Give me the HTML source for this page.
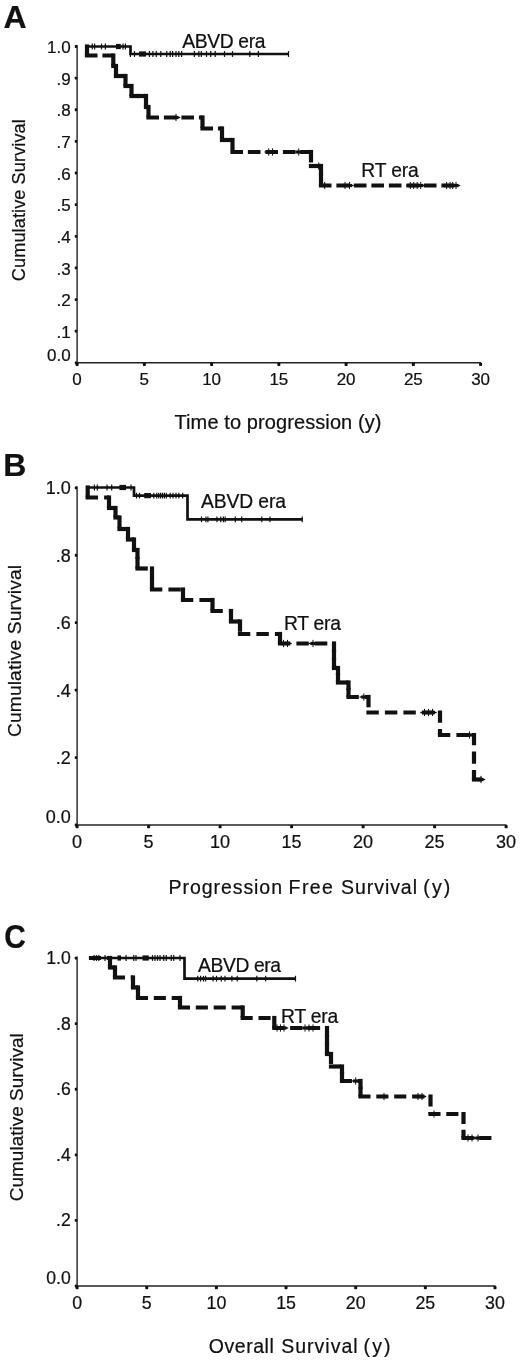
<!DOCTYPE html>
<html><head><meta charset="utf-8"><title>Figure</title>
<style>html,body{margin:0;padding:0;background:#fff;width:520px;height:1362px;overflow:hidden;}svg{display:block;}text{font-family:"Liberation Sans", sans-serif;fill:#111;stroke:#111;stroke-width:0.22px;}</style></head><body>
<svg width="520" height="1362" viewBox="0 0 520 1362" stroke="#111" fill="none" shape-rendering="auto" style="will-change:transform">
<rect x="0" y="0" width="520" height="1362" fill="#fff" stroke="none"/>
<text x="3.5" y="27.7" font-size="32" text-anchor="start" font-weight="bold">A</text>
<line x1="77.1" y1="45.0" x2="77.1" y2="363.5" stroke-width="1.4" stroke="#222"/>
<line x1="76.39999999999999" y1="362.8" x2="481.1" y2="362.8" stroke-width="1.4" stroke="#222"/>
<rect x="74.8" y="361.40000000000003" width="2.3" height="2.8" rx="0.6" fill="#111" stroke="none"/>
<rect x="74.8" y="329.77000000000004" width="2.3" height="2.8" rx="0.6" fill="#111" stroke="none"/>
<rect x="74.8" y="298.14000000000004" width="2.3" height="2.8" rx="0.6" fill="#111" stroke="none"/>
<rect x="74.8" y="266.51000000000005" width="2.3" height="2.8" rx="0.6" fill="#111" stroke="none"/>
<rect x="74.8" y="234.88" width="2.3" height="2.8" rx="0.6" fill="#111" stroke="none"/>
<rect x="74.8" y="203.25" width="2.3" height="2.8" rx="0.6" fill="#111" stroke="none"/>
<rect x="74.8" y="171.62" width="2.3" height="2.8" rx="0.6" fill="#111" stroke="none"/>
<rect x="74.8" y="139.99" width="2.3" height="2.8" rx="0.6" fill="#111" stroke="none"/>
<rect x="74.8" y="108.35999999999999" width="2.3" height="2.8" rx="0.6" fill="#111" stroke="none"/>
<rect x="74.8" y="76.72999999999999" width="2.3" height="2.8" rx="0.6" fill="#111" stroke="none"/>
<rect x="74.8" y="45.1" width="2.3" height="2.8" rx="0.6" fill="#111" stroke="none"/>
<text x="70.7" y="53.09" font-size="17" text-anchor="end" font-weight="normal">1.0</text>
<text x="70.7" y="84.72" font-size="17" text-anchor="end" font-weight="normal">.9</text>
<text x="70.7" y="116.35" font-size="17" text-anchor="end" font-weight="normal">.8</text>
<text x="70.7" y="147.98" font-size="17" text-anchor="end" font-weight="normal">.7</text>
<text x="70.7" y="179.61" font-size="17" text-anchor="end" font-weight="normal">.6</text>
<text x="70.7" y="211.24" font-size="17" text-anchor="end" font-weight="normal">.5</text>
<text x="70.7" y="242.87" font-size="17" text-anchor="end" font-weight="normal">.4</text>
<text x="70.7" y="274.5" font-size="17" text-anchor="end" font-weight="normal">.3</text>
<text x="70.7" y="306.13" font-size="17" text-anchor="end" font-weight="normal">.2</text>
<text x="70.7" y="337.76" font-size="17" text-anchor="end" font-weight="normal">.1</text>
<text x="70.7" y="361.09" font-size="17" text-anchor="end" font-weight="normal">0.0</text>
<rect x="75.6" y="362.8" width="3" height="3.2" rx="0.7" fill="#111" stroke="none"/>
<text x="77.1" y="384.79" font-size="17" text-anchor="middle" font-weight="normal">0</text>
<rect x="142.85" y="362.8" width="3" height="3.2" rx="0.7" fill="#111" stroke="none"/>
<text x="144.35" y="384.79" font-size="17" text-anchor="middle" font-weight="normal">5</text>
<rect x="210.1" y="362.8" width="3" height="3.2" rx="0.7" fill="#111" stroke="none"/>
<text x="211.6" y="384.79" font-size="17" text-anchor="middle" font-weight="normal">10</text>
<rect x="277.35" y="362.8" width="3" height="3.2" rx="0.7" fill="#111" stroke="none"/>
<text x="278.85" y="384.79" font-size="17" text-anchor="middle" font-weight="normal">15</text>
<rect x="344.6" y="362.8" width="3" height="3.2" rx="0.7" fill="#111" stroke="none"/>
<text x="346.1" y="384.79" font-size="17" text-anchor="middle" font-weight="normal">20</text>
<rect x="411.85" y="362.8" width="3" height="3.2" rx="0.7" fill="#111" stroke="none"/>
<text x="413.35" y="384.79" font-size="17" text-anchor="middle" font-weight="normal">25</text>
<rect x="479.1" y="362.8" width="3" height="3.2" rx="0.7" fill="#111" stroke="none"/>
<text x="480.6" y="384.79" font-size="17" text-anchor="middle" font-weight="normal">30</text>
<text transform="translate(24.7,200.2) rotate(-90)" font-size="18.2" text-anchor="middle" textLength="162" lengthAdjust="spacing">Cumulative Survival</text>
<text x="174.5" y="428.6" font-size="20" text-anchor="start" font-weight="normal" textLength="207" lengthAdjust="spacing">Time to progression (y)</text>
<text x="182.2" y="48.3" font-size="19.3" text-anchor="start" font-weight="normal" textLength="83.3" lengthAdjust="spacing">ABVD era</text>
<text x="361.3" y="176.5" font-size="19.3" text-anchor="start" font-weight="normal" textLength="57.5" lengthAdjust="spacing">RT era</text>
<line x1="176" y1="113.9" x2="176" y2="121.1" stroke-width="1.0"/>
<line x1="173.4" y1="117.5" x2="178.6" y2="117.5" stroke-width="3.2"/>
<line x1="171.8" y1="117.5" x2="180.2" y2="117.5" stroke-width="1.3"/>
<line x1="268.7" y1="148.4" x2="268.7" y2="155.6" stroke-width="1.0"/>
<line x1="266.09999999999997" y1="152" x2="271.3" y2="152" stroke-width="3.2"/>
<line x1="264.5" y1="152" x2="272.9" y2="152" stroke-width="1.3"/>
<line x1="272.5" y1="148.4" x2="272.5" y2="155.6" stroke-width="1.0"/>
<line x1="269.9" y1="152" x2="275.1" y2="152" stroke-width="3.2"/>
<line x1="268.3" y1="152" x2="276.7" y2="152" stroke-width="1.3"/>
<line x1="298.7" y1="148.4" x2="298.7" y2="155.6" stroke-width="1.0"/>
<line x1="296.09999999999997" y1="152" x2="301.3" y2="152" stroke-width="3.2"/>
<line x1="294.5" y1="152" x2="302.9" y2="152" stroke-width="1.3"/>
<line x1="318.7" y1="162.4" x2="318.7" y2="169.6" stroke-width="1.0"/>
<line x1="316.09999999999997" y1="166" x2="321.3" y2="166" stroke-width="3.2"/>
<line x1="314.5" y1="166" x2="322.9" y2="166" stroke-width="1.3"/>
<line x1="324.7" y1="181.9" x2="324.7" y2="189.1" stroke-width="1.0"/>
<line x1="322.09999999999997" y1="185.5" x2="327.3" y2="185.5" stroke-width="3.2"/>
<line x1="320.5" y1="185.5" x2="328.9" y2="185.5" stroke-width="1.3"/>
<line x1="345" y1="181.9" x2="345" y2="189.1" stroke-width="1.0"/>
<line x1="342.4" y1="185.5" x2="347.6" y2="185.5" stroke-width="3.2"/>
<line x1="340.8" y1="185.5" x2="349.2" y2="185.5" stroke-width="1.3"/>
<line x1="349.5" y1="181.9" x2="349.5" y2="189.1" stroke-width="1.0"/>
<line x1="346.9" y1="185.5" x2="352.1" y2="185.5" stroke-width="3.2"/>
<line x1="345.3" y1="185.5" x2="353.7" y2="185.5" stroke-width="1.3"/>
<line x1="410.3" y1="181.9" x2="410.3" y2="189.1" stroke-width="1.0"/>
<line x1="407.7" y1="185.5" x2="412.90000000000003" y2="185.5" stroke-width="3.2"/>
<line x1="406.1" y1="185.5" x2="414.5" y2="185.5" stroke-width="1.3"/>
<line x1="413.7" y1="181.9" x2="413.7" y2="189.1" stroke-width="1.0"/>
<line x1="411.09999999999997" y1="185.5" x2="416.3" y2="185.5" stroke-width="3.2"/>
<line x1="409.5" y1="185.5" x2="417.9" y2="185.5" stroke-width="1.3"/>
<line x1="417.2" y1="181.9" x2="417.2" y2="189.1" stroke-width="1.0"/>
<line x1="414.59999999999997" y1="185.5" x2="419.8" y2="185.5" stroke-width="3.2"/>
<line x1="413.0" y1="185.5" x2="421.4" y2="185.5" stroke-width="1.3"/>
<line x1="420.7" y1="181.9" x2="420.7" y2="189.1" stroke-width="1.0"/>
<line x1="418.09999999999997" y1="185.5" x2="423.3" y2="185.5" stroke-width="3.2"/>
<line x1="416.5" y1="185.5" x2="424.9" y2="185.5" stroke-width="1.3"/>
<line x1="446.6" y1="181.9" x2="446.6" y2="189.1" stroke-width="1.0"/>
<line x1="444.0" y1="185.5" x2="449.20000000000005" y2="185.5" stroke-width="3.2"/>
<line x1="442.40000000000003" y1="185.5" x2="450.8" y2="185.5" stroke-width="1.3"/>
<line x1="450" y1="181.9" x2="450" y2="189.1" stroke-width="1.0"/>
<line x1="447.4" y1="185.5" x2="452.6" y2="185.5" stroke-width="3.2"/>
<line x1="445.8" y1="185.5" x2="454.2" y2="185.5" stroke-width="1.3"/>
<line x1="452.7" y1="181.9" x2="452.7" y2="189.1" stroke-width="1.0"/>
<line x1="450.09999999999997" y1="185.5" x2="455.3" y2="185.5" stroke-width="3.2"/>
<line x1="448.5" y1="185.5" x2="456.9" y2="185.5" stroke-width="1.3"/>
<line x1="456" y1="181.9" x2="456" y2="189.1" stroke-width="1.0"/>
<line x1="453.4" y1="185.5" x2="458.6" y2="185.5" stroke-width="3.2"/>
<line x1="451.8" y1="185.5" x2="460.2" y2="185.5" stroke-width="1.3"/>
<line x1="87.0" y1="44.4" x2="87.0" y2="55.5" stroke-width="4.2" stroke-dasharray="12.6 4.9"/>
<line x1="84.9" y1="55.5" x2="113.3" y2="55.5" stroke-width="4.2" stroke-dasharray="12.6 4.9"/>
<line x1="113.3" y1="53.4" x2="113.3" y2="66.0" stroke-width="4.2" stroke-dasharray="12.6 4.9"/>
<line x1="111.2" y1="66.0" x2="116.0" y2="66.0" stroke-width="4.2" stroke-dasharray="12.6 4.9"/>
<line x1="116.0" y1="63.9" x2="116.0" y2="76.0" stroke-width="4.2" stroke-dasharray="12.6 4.9"/>
<line x1="113.9" y1="76.0" x2="125.5" y2="76.0" stroke-width="4.2" stroke-dasharray="12.6 4.9"/>
<line x1="125.5" y1="73.9" x2="125.5" y2="86.0" stroke-width="4.2" stroke-dasharray="12.6 4.9"/>
<line x1="123.4" y1="86.0" x2="131.5" y2="86.0" stroke-width="4.2" stroke-dasharray="12.6 4.9"/>
<line x1="131.5" y1="83.9" x2="131.5" y2="96.0" stroke-width="4.2" stroke-dasharray="12.6 4.9"/>
<line x1="129.4" y1="96.0" x2="139.0" y2="96.0" stroke-width="4.2" stroke-dasharray="12.6 4.9"/>
<line x1="136.9" y1="96.0" x2="146.0" y2="96.0" stroke-width="4.2" stroke-dasharray="12.6 4.9"/>
<line x1="146.0" y1="93.9" x2="146.0" y2="107.0" stroke-width="4.2" stroke-dasharray="12.6 4.9"/>
<line x1="143.9" y1="107.0" x2="148.5" y2="107.0" stroke-width="4.2" stroke-dasharray="12.6 4.9"/>
<line x1="148.5" y1="104.9" x2="148.5" y2="117.5" stroke-width="4.2" stroke-dasharray="12.6 4.9"/>
<line x1="146.4" y1="117.5" x2="202.5" y2="117.5" stroke-width="4.2" stroke-dasharray="12.6 4.9"/>
<line x1="202.5" y1="115.4" x2="202.5" y2="128.5" stroke-width="4.2" stroke-dasharray="12.6 4.9"/>
<line x1="200.4" y1="128.5" x2="222.0" y2="128.5" stroke-width="4.2" stroke-dasharray="12.6 4.9"/>
<line x1="222.0" y1="126.4" x2="222.0" y2="140.0" stroke-width="4.2" stroke-dasharray="12.6 4.9"/>
<line x1="219.9" y1="140.0" x2="232.5" y2="140.0" stroke-width="4.2" stroke-dasharray="12.6 4.9"/>
<line x1="232.5" y1="137.9" x2="232.5" y2="152.0" stroke-width="4.2" stroke-dasharray="12.6 4.9"/>
<line x1="230.4" y1="152.0" x2="311.0" y2="152.0" stroke-width="4.2" stroke-dasharray="12.6 4.9"/>
<line x1="311.0" y1="149.9" x2="311.0" y2="166.0" stroke-width="4.2" stroke-dasharray="12.6 4.9"/>
<line x1="308.9" y1="166.0" x2="321.0" y2="166.0" stroke-width="4.2" stroke-dasharray="12.6 4.9"/>
<line x1="321.0" y1="163.9" x2="321.0" y2="175.5" stroke-width="4.2" stroke-dasharray="12.6 4.9"/>
<line x1="321.0" y1="173.4" x2="321.0" y2="185.5" stroke-width="4.2" stroke-dasharray="12.6 4.9"/>
<line x1="318.9" y1="185.5" x2="458.5" y2="185.5" stroke-width="4.2" stroke-dasharray="12.6 4.9"/>
<path d="M86.2,46.5 H130.5 V54 H288.5" fill="none" stroke-width="2.7" stroke-linejoin="miter"/>
<line x1="92.3" y1="43.6" x2="92.3" y2="49.4" stroke-width="1.2"/>
<line x1="94.6" y1="43.6" x2="94.6" y2="49.4" stroke-width="1.2"/>
<line x1="101.5" y1="43.6" x2="101.5" y2="49.4" stroke-width="1.2"/>
<line x1="105.4" y1="43.6" x2="105.4" y2="49.4" stroke-width="1.2"/>
<line x1="123" y1="43.6" x2="123" y2="49.4" stroke-width="1.2"/>
<line x1="125.4" y1="43.6" x2="125.4" y2="49.4" stroke-width="1.2"/>
<rect x="116" y="43.9" width="4.799999999999997" height="5.2" fill="#111" stroke="none"/>
<line x1="130.4" y1="51.1" x2="130.4" y2="56.9" stroke-width="1.2"/>
<line x1="134.5" y1="51.1" x2="134.5" y2="56.9" stroke-width="1.2"/>
<line x1="149.4" y1="51.1" x2="149.4" y2="56.9" stroke-width="1.2"/>
<line x1="152.9" y1="51.1" x2="152.9" y2="56.9" stroke-width="1.2"/>
<line x1="156.3" y1="51.1" x2="156.3" y2="56.9" stroke-width="1.2"/>
<line x1="160.8" y1="51.1" x2="160.8" y2="56.9" stroke-width="1.2"/>
<line x1="166.7" y1="51.1" x2="166.7" y2="56.9" stroke-width="1.2"/>
<line x1="170.2" y1="51.1" x2="170.2" y2="56.9" stroke-width="1.2"/>
<line x1="172.6" y1="51.1" x2="172.6" y2="56.9" stroke-width="1.2"/>
<line x1="176" y1="51.1" x2="176" y2="56.9" stroke-width="1.2"/>
<line x1="178.8" y1="51.1" x2="178.8" y2="56.9" stroke-width="1.2"/>
<line x1="181.6" y1="51.1" x2="181.6" y2="56.9" stroke-width="1.2"/>
<line x1="194.4" y1="51.1" x2="194.4" y2="56.9" stroke-width="1.2"/>
<line x1="198.9" y1="51.1" x2="198.9" y2="56.9" stroke-width="1.2"/>
<line x1="201.3" y1="51.1" x2="201.3" y2="56.9" stroke-width="1.2"/>
<line x1="206.5" y1="51.1" x2="206.5" y2="56.9" stroke-width="1.2"/>
<line x1="210.7" y1="51.1" x2="210.7" y2="56.9" stroke-width="1.2"/>
<line x1="215.2" y1="51.1" x2="215.2" y2="56.9" stroke-width="1.2"/>
<line x1="224.5" y1="51.1" x2="224.5" y2="56.9" stroke-width="1.2"/>
<line x1="232.5" y1="51.1" x2="232.5" y2="56.9" stroke-width="1.2"/>
<line x1="249.8" y1="51.1" x2="249.8" y2="56.9" stroke-width="1.2"/>
<line x1="258.4" y1="51.1" x2="258.4" y2="56.9" stroke-width="1.2"/>
<line x1="288.5" y1="51.1" x2="288.5" y2="56.9" stroke-width="1.2"/>
<rect x="139" y="51.4" width="7" height="5.2" fill="#111" stroke="none"/>
<text x="3.2" y="476.4" font-size="32" text-anchor="start" font-weight="bold">B</text>
<line x1="77.1" y1="486.3" x2="77.1" y2="825.7" stroke-width="1.4" stroke="#222"/>
<line x1="76.39999999999999" y1="825" x2="506.5" y2="825" stroke-width="1.4" stroke="#222"/>
<rect x="74.8" y="823.6" width="2.3" height="2.8" rx="0.6" fill="#111" stroke="none"/>
<rect x="74.8" y="756.16" width="2.3" height="2.8" rx="0.6" fill="#111" stroke="none"/>
<rect x="74.8" y="688.72" width="2.3" height="2.8" rx="0.6" fill="#111" stroke="none"/>
<rect x="74.8" y="621.2800000000001" width="2.3" height="2.8" rx="0.6" fill="#111" stroke="none"/>
<rect x="74.8" y="553.84" width="2.3" height="2.8" rx="0.6" fill="#111" stroke="none"/>
<rect x="74.8" y="486.40000000000003" width="2.3" height="2.8" rx="0.6" fill="#111" stroke="none"/>
<text x="70.7" y="494.34" font-size="18" text-anchor="end" font-weight="normal">1.0</text>
<text x="70.7" y="561.78" font-size="18" text-anchor="end" font-weight="normal">.8</text>
<text x="70.7" y="629.22" font-size="18" text-anchor="end" font-weight="normal">.6</text>
<text x="70.7" y="696.66" font-size="18" text-anchor="end" font-weight="normal">.4</text>
<text x="70.7" y="764.1" font-size="18" text-anchor="end" font-weight="normal">.2</text>
<text x="70.7" y="822.64" font-size="18" text-anchor="end" font-weight="normal">0.0</text>
<rect x="75.6" y="825" width="3" height="3.2" rx="0.7" fill="#111" stroke="none"/>
<text x="77.1" y="848.14" font-size="18" text-anchor="middle" font-weight="normal">0</text>
<rect x="147.1" y="825" width="3" height="3.2" rx="0.7" fill="#111" stroke="none"/>
<text x="148.6" y="848.14" font-size="18" text-anchor="middle" font-weight="normal">5</text>
<rect x="218.6" y="825" width="3" height="3.2" rx="0.7" fill="#111" stroke="none"/>
<text x="220.1" y="848.14" font-size="18" text-anchor="middle" font-weight="normal">10</text>
<rect x="290.1" y="825" width="3" height="3.2" rx="0.7" fill="#111" stroke="none"/>
<text x="291.6" y="848.14" font-size="18" text-anchor="middle" font-weight="normal">15</text>
<rect x="361.6" y="825" width="3" height="3.2" rx="0.7" fill="#111" stroke="none"/>
<text x="363.1" y="848.14" font-size="18" text-anchor="middle" font-weight="normal">20</text>
<rect x="433.1" y="825" width="3" height="3.2" rx="0.7" fill="#111" stroke="none"/>
<text x="434.6" y="848.14" font-size="18" text-anchor="middle" font-weight="normal">25</text>
<rect x="504.6" y="825" width="3" height="3.2" rx="0.7" fill="#111" stroke="none"/>
<text x="506.1" y="848.14" font-size="18" text-anchor="middle" font-weight="normal">30</text>
<text transform="translate(20.8,651.0) rotate(-90)" font-size="19.2" text-anchor="middle" textLength="172" lengthAdjust="spacing">Cumulative Survival</text>
<text x="168.5" y="893.9" font-size="19.5" text-anchor="start" font-weight="normal" textLength="113.5" lengthAdjust="spacing">Progression</text>
<text x="288.6" y="893.9" font-size="19.5" text-anchor="start" font-weight="normal" textLength="44.2" lengthAdjust="spacing">Free</text>
<text x="341" y="893.9" font-size="19.5" text-anchor="start" font-weight="normal" textLength="76" lengthAdjust="spacing">Survival</text>
<text x="423.3" y="893.9" font-size="19.5" text-anchor="start" font-weight="normal" textLength="27" lengthAdjust="spacing">(y)</text>
<text x="201.1" y="508.3" font-size="19.3" text-anchor="start" font-weight="normal" textLength="84.8" lengthAdjust="spacing">ABVD era</text>
<text x="284" y="629.8" font-size="19.3" text-anchor="start" font-weight="normal" textLength="57" lengthAdjust="spacing">RT era</text>
<line x1="283.5" y1="639.9" x2="283.5" y2="647.1" stroke-width="1.0"/>
<line x1="280.9" y1="643.5" x2="286.1" y2="643.5" stroke-width="3.2"/>
<line x1="279.3" y1="643.5" x2="287.7" y2="643.5" stroke-width="1.3"/>
<line x1="287.5" y1="639.9" x2="287.5" y2="647.1" stroke-width="1.0"/>
<line x1="284.9" y1="643.5" x2="290.1" y2="643.5" stroke-width="3.2"/>
<line x1="283.3" y1="643.5" x2="291.7" y2="643.5" stroke-width="1.3"/>
<line x1="313" y1="639.9" x2="313" y2="647.1" stroke-width="1.0"/>
<line x1="310.4" y1="643.5" x2="315.6" y2="643.5" stroke-width="3.2"/>
<line x1="308.8" y1="643.5" x2="317.2" y2="643.5" stroke-width="1.3"/>
<line x1="363.8" y1="693.4" x2="363.8" y2="700.6" stroke-width="1.0"/>
<line x1="361.2" y1="697" x2="366.40000000000003" y2="697" stroke-width="3.2"/>
<line x1="359.6" y1="697" x2="368.0" y2="697" stroke-width="1.3"/>
<line x1="424.5" y1="708.9" x2="424.5" y2="716.1" stroke-width="1.0"/>
<line x1="421.9" y1="712.5" x2="427.1" y2="712.5" stroke-width="3.2"/>
<line x1="420.3" y1="712.5" x2="428.7" y2="712.5" stroke-width="1.3"/>
<line x1="428.5" y1="708.9" x2="428.5" y2="716.1" stroke-width="1.0"/>
<line x1="425.9" y1="712.5" x2="431.1" y2="712.5" stroke-width="3.2"/>
<line x1="424.3" y1="712.5" x2="432.7" y2="712.5" stroke-width="1.3"/>
<line x1="432.5" y1="708.9" x2="432.5" y2="716.1" stroke-width="1.0"/>
<line x1="429.9" y1="712.5" x2="435.1" y2="712.5" stroke-width="3.2"/>
<line x1="428.3" y1="712.5" x2="436.7" y2="712.5" stroke-width="1.3"/>
<line x1="469.5" y1="731.4" x2="469.5" y2="738.6" stroke-width="1.0"/>
<line x1="466.9" y1="735" x2="472.1" y2="735" stroke-width="3.2"/>
<line x1="465.3" y1="735" x2="473.7" y2="735" stroke-width="1.3"/>
<line x1="481" y1="775.9" x2="481" y2="783.1" stroke-width="1.0"/>
<line x1="478.4" y1="779.5" x2="483.6" y2="779.5" stroke-width="3.2"/>
<line x1="476.8" y1="779.5" x2="485.2" y2="779.5" stroke-width="1.3"/>
<line x1="87.7" y1="485.4" x2="87.7" y2="497.5" stroke-width="4.2" stroke-dasharray="12.4 6.1"/>
<line x1="85.60000000000001" y1="497.5" x2="109.0" y2="497.5" stroke-width="4.2" stroke-dasharray="12.4 6.1"/>
<line x1="109.0" y1="495.4" x2="109.0" y2="508.0" stroke-width="4.2" stroke-dasharray="12.4 6.1"/>
<line x1="106.9" y1="508.0" x2="115.5" y2="508.0" stroke-width="4.2" stroke-dasharray="12.4 6.1"/>
<line x1="115.5" y1="505.9" x2="115.5" y2="517.5" stroke-width="4.2" stroke-dasharray="12.4 6.1"/>
<line x1="113.4" y1="517.5" x2="119.5" y2="517.5" stroke-width="4.2" stroke-dasharray="12.4 6.1"/>
<line x1="119.5" y1="515.4" x2="119.5" y2="529.0" stroke-width="4.2" stroke-dasharray="12.4 6.1"/>
<line x1="117.4" y1="529.0" x2="128.0" y2="529.0" stroke-width="4.2" stroke-dasharray="12.4 6.1"/>
<line x1="128.0" y1="526.9" x2="128.0" y2="539.5" stroke-width="4.2" stroke-dasharray="12.4 6.1"/>
<line x1="125.9" y1="539.5" x2="134.0" y2="539.5" stroke-width="4.2" stroke-dasharray="12.4 6.1"/>
<line x1="134.0" y1="537.4" x2="134.0" y2="550.0" stroke-width="4.2" stroke-dasharray="12.4 6.1"/>
<line x1="131.9" y1="550.0" x2="137.5" y2="550.0" stroke-width="4.2" stroke-dasharray="12.4 6.1"/>
<line x1="137.5" y1="547.9" x2="137.5" y2="559.0" stroke-width="4.2" stroke-dasharray="12.4 6.1"/>
<line x1="137.5" y1="556.9" x2="137.5" y2="568.5" stroke-width="4.2" stroke-dasharray="12.4 6.1"/>
<line x1="135.4" y1="568.5" x2="152.0" y2="568.5" stroke-width="4.2" stroke-dasharray="12.4 6.1"/>
<line x1="152.0" y1="566.4" x2="152.0" y2="579.0" stroke-width="4.2" stroke-dasharray="12.4 6.1"/>
<line x1="152.0" y1="576.9" x2="152.0" y2="589.5" stroke-width="4.2" stroke-dasharray="12.4 6.1"/>
<line x1="149.9" y1="589.5" x2="183.0" y2="589.5" stroke-width="4.2" stroke-dasharray="12.4 6.1"/>
<line x1="183.0" y1="587.4" x2="183.0" y2="600.0" stroke-width="4.2" stroke-dasharray="12.4 6.1"/>
<line x1="180.9" y1="600.0" x2="212.5" y2="600.0" stroke-width="4.2" stroke-dasharray="12.4 6.1"/>
<line x1="212.5" y1="597.9" x2="212.5" y2="611.0" stroke-width="4.2" stroke-dasharray="12.4 6.1"/>
<line x1="210.4" y1="611.0" x2="231.0" y2="611.0" stroke-width="4.2" stroke-dasharray="12.4 6.1"/>
<line x1="231.0" y1="608.9" x2="231.0" y2="621.5" stroke-width="4.2" stroke-dasharray="12.4 6.1"/>
<line x1="228.9" y1="621.5" x2="240.0" y2="621.5" stroke-width="4.2" stroke-dasharray="12.4 6.1"/>
<line x1="240.0" y1="619.4" x2="240.0" y2="634.0" stroke-width="4.2" stroke-dasharray="12.4 6.1"/>
<line x1="237.9" y1="634.0" x2="280.0" y2="634.0" stroke-width="4.2" stroke-dasharray="12.4 6.1"/>
<line x1="280.0" y1="631.9" x2="280.0" y2="643.5" stroke-width="4.2" stroke-dasharray="12.4 6.1"/>
<line x1="277.9" y1="643.5" x2="334.0" y2="643.5" stroke-width="4.2" stroke-dasharray="12.4 6.1"/>
<line x1="334.0" y1="641.4" x2="334.0" y2="652.0" stroke-width="4.2" stroke-dasharray="12.4 6.1"/>
<line x1="334.0" y1="649.9" x2="334.0" y2="660.0" stroke-width="4.2" stroke-dasharray="12.4 6.1"/>
<line x1="334.0" y1="657.9" x2="334.0" y2="668.0" stroke-width="4.2" stroke-dasharray="12.4 6.1"/>
<line x1="331.9" y1="668.0" x2="338.0" y2="668.0" stroke-width="4.2" stroke-dasharray="12.4 6.1"/>
<line x1="338.0" y1="665.9" x2="338.0" y2="675.0" stroke-width="4.2" stroke-dasharray="12.4 6.1"/>
<line x1="338.0" y1="672.9" x2="338.0" y2="682.5" stroke-width="4.2" stroke-dasharray="12.4 6.1"/>
<line x1="335.9" y1="682.5" x2="348.5" y2="682.5" stroke-width="4.2" stroke-dasharray="12.4 6.1"/>
<line x1="348.5" y1="680.4" x2="348.5" y2="690.0" stroke-width="4.2" stroke-dasharray="12.4 6.1"/>
<line x1="348.5" y1="687.9" x2="348.5" y2="697.0" stroke-width="4.2" stroke-dasharray="12.4 6.1"/>
<line x1="346.4" y1="697.0" x2="368.5" y2="697.0" stroke-width="4.2" stroke-dasharray="12.4 6.1"/>
<line x1="368.5" y1="694.9" x2="368.5" y2="712.5" stroke-width="4.2" stroke-dasharray="12.4 6.1"/>
<line x1="366.4" y1="712.5" x2="440.0" y2="712.5" stroke-width="4.2" stroke-dasharray="12.4 6.1"/>
<line x1="440.0" y1="710.4" x2="440.0" y2="735.0" stroke-width="4.2" stroke-dasharray="12.4 6.1"/>
<line x1="437.9" y1="735.0" x2="474.0" y2="735.0" stroke-width="4.2" stroke-dasharray="12.4 6.1"/>
<line x1="474.0" y1="732.9" x2="474.0" y2="779.5" stroke-width="4.2" stroke-dasharray="12.4 6.1"/>
<line x1="471.9" y1="779.5" x2="482.0" y2="779.5" stroke-width="4.2" stroke-dasharray="12.4 6.1"/>
<path d="M86.8,487.5 H134 V495.6 H187.5 V519.3 H302.7" fill="none" stroke-width="2.7" stroke-linejoin="miter"/>
<line x1="94.4" y1="484.6" x2="94.4" y2="490.4" stroke-width="1.2"/>
<line x1="97.3" y1="484.6" x2="97.3" y2="490.4" stroke-width="1.2"/>
<line x1="107" y1="484.6" x2="107" y2="490.4" stroke-width="1.2"/>
<line x1="111.7" y1="484.6" x2="111.7" y2="490.4" stroke-width="1.2"/>
<line x1="131" y1="484.6" x2="131" y2="490.4" stroke-width="1.2"/>
<rect x="119.4" y="484.9" width="6.599999999999994" height="5.2" fill="#111" stroke="none"/>
<line x1="136.5" y1="492.70000000000005" x2="136.5" y2="498.5" stroke-width="1.2"/>
<line x1="139.5" y1="492.70000000000005" x2="139.5" y2="498.5" stroke-width="1.2"/>
<line x1="153.8" y1="492.70000000000005" x2="153.8" y2="498.5" stroke-width="1.2"/>
<line x1="156.7" y1="492.70000000000005" x2="156.7" y2="498.5" stroke-width="1.2"/>
<line x1="158.7" y1="492.70000000000005" x2="158.7" y2="498.5" stroke-width="1.2"/>
<line x1="160.6" y1="492.70000000000005" x2="160.6" y2="498.5" stroke-width="1.2"/>
<line x1="162.5" y1="492.70000000000005" x2="162.5" y2="498.5" stroke-width="1.2"/>
<line x1="164.4" y1="492.70000000000005" x2="164.4" y2="498.5" stroke-width="1.2"/>
<line x1="166.3" y1="492.70000000000005" x2="166.3" y2="498.5" stroke-width="1.2"/>
<line x1="170.2" y1="492.70000000000005" x2="170.2" y2="498.5" stroke-width="1.2"/>
<line x1="173" y1="492.70000000000005" x2="173" y2="498.5" stroke-width="1.2"/>
<line x1="176" y1="492.70000000000005" x2="176" y2="498.5" stroke-width="1.2"/>
<line x1="178.8" y1="492.70000000000005" x2="178.8" y2="498.5" stroke-width="1.2"/>
<line x1="182.7" y1="492.70000000000005" x2="182.7" y2="498.5" stroke-width="1.2"/>
<rect x="144.2" y="493.0" width="6.800000000000011" height="5.2" fill="#111" stroke="none"/>
<line x1="201.5" y1="516.4" x2="201.5" y2="522.1999999999999" stroke-width="1.2"/>
<line x1="206" y1="516.4" x2="206" y2="522.1999999999999" stroke-width="1.2"/>
<line x1="207.9" y1="516.4" x2="207.9" y2="522.1999999999999" stroke-width="1.2"/>
<line x1="217" y1="516.4" x2="217" y2="522.1999999999999" stroke-width="1.2"/>
<line x1="220.7" y1="516.4" x2="220.7" y2="522.1999999999999" stroke-width="1.2"/>
<line x1="223.4" y1="516.4" x2="223.4" y2="522.1999999999999" stroke-width="1.2"/>
<line x1="225.2" y1="516.4" x2="225.2" y2="522.1999999999999" stroke-width="1.2"/>
<line x1="235.3" y1="516.4" x2="235.3" y2="522.1999999999999" stroke-width="1.2"/>
<line x1="241.7" y1="516.4" x2="241.7" y2="522.1999999999999" stroke-width="1.2"/>
<line x1="261.8" y1="516.4" x2="261.8" y2="522.1999999999999" stroke-width="1.2"/>
<line x1="270" y1="516.4" x2="270" y2="522.1999999999999" stroke-width="1.2"/>
<line x1="302.2" y1="516.4" x2="302.2" y2="522.1999999999999" stroke-width="1.2"/>
<text transform="translate(4.2,948.1) scale(0.935,1.03)" font-size="32" font-weight="bold">C</text>
<line x1="77.1" y1="956.6" x2="77.1" y2="1286.7" stroke-width="1.4" stroke="#222"/>
<line x1="76.39999999999999" y1="1286" x2="495.5" y2="1286" stroke-width="1.4" stroke="#222"/>
<rect x="74.8" y="1284.6" width="2.3" height="2.8" rx="0.6" fill="#111" stroke="none"/>
<rect x="74.8" y="1219.02" width="2.3" height="2.8" rx="0.6" fill="#111" stroke="none"/>
<rect x="74.8" y="1153.4399999999998" width="2.3" height="2.8" rx="0.6" fill="#111" stroke="none"/>
<rect x="74.8" y="1087.86" width="2.3" height="2.8" rx="0.6" fill="#111" stroke="none"/>
<rect x="74.8" y="1022.2800000000001" width="2.3" height="2.8" rx="0.6" fill="#111" stroke="none"/>
<rect x="74.8" y="956.7" width="2.3" height="2.8" rx="0.6" fill="#111" stroke="none"/>
<text x="70.7" y="964.0" font-size="17.6" text-anchor="end" font-weight="normal">1.0</text>
<text x="70.7" y="1029.58" font-size="17.6" text-anchor="end" font-weight="normal">.8</text>
<text x="70.7" y="1095.16" font-size="17.6" text-anchor="end" font-weight="normal">.6</text>
<text x="70.7" y="1160.74" font-size="17.6" text-anchor="end" font-weight="normal">.4</text>
<text x="70.7" y="1226.32" font-size="17.6" text-anchor="end" font-weight="normal">.2</text>
<text x="70.7" y="1283.5" font-size="17.6" text-anchor="end" font-weight="normal">0.0</text>
<rect x="75.6" y="1286" width="3" height="3.2" rx="0.7" fill="#111" stroke="none"/>
<text x="77.1" y="1308.77" font-size="17.8" text-anchor="middle" font-weight="normal">0</text>
<rect x="145.25" y="1286" width="3" height="3.2" rx="0.7" fill="#111" stroke="none"/>
<text x="146.75" y="1308.77" font-size="17.8" text-anchor="middle" font-weight="normal">5</text>
<rect x="214.9" y="1286" width="3" height="3.2" rx="0.7" fill="#111" stroke="none"/>
<text x="216.4" y="1308.77" font-size="17.8" text-anchor="middle" font-weight="normal">10</text>
<rect x="284.54999999999995" y="1286" width="3" height="3.2" rx="0.7" fill="#111" stroke="none"/>
<text x="286.05" y="1308.77" font-size="17.8" text-anchor="middle" font-weight="normal">15</text>
<rect x="354.20000000000005" y="1286" width="3" height="3.2" rx="0.7" fill="#111" stroke="none"/>
<text x="355.7" y="1308.77" font-size="17.8" text-anchor="middle" font-weight="normal">20</text>
<rect x="423.85" y="1286" width="3" height="3.2" rx="0.7" fill="#111" stroke="none"/>
<text x="425.35" y="1308.77" font-size="17.8" text-anchor="middle" font-weight="normal">25</text>
<rect x="493.5" y="1286" width="3" height="3.2" rx="0.7" fill="#111" stroke="none"/>
<text x="495.0" y="1308.77" font-size="17.8" text-anchor="middle" font-weight="normal">30</text>
<text transform="translate(23.4,1117.3) rotate(-90)" font-size="19" text-anchor="middle" textLength="168" lengthAdjust="spacing">Cumulative Survival</text>
<text x="208.8" y="1353.2" font-size="19.5" text-anchor="start" font-weight="normal" textLength="65" lengthAdjust="spacing">Overall</text>
<text x="281.2" y="1353.2" font-size="19.5" text-anchor="start" font-weight="normal" textLength="76.5" lengthAdjust="spacing">Survival</text>
<text x="363.6" y="1353.2" font-size="19.5" text-anchor="start" font-weight="normal" textLength="26.8" lengthAdjust="spacing">(y)</text>
<text x="198" y="971.8" font-size="19.3" text-anchor="start" font-weight="normal" textLength="83" lengthAdjust="spacing">ABVD era</text>
<text x="281" y="1023.4" font-size="19.3" text-anchor="start" font-weight="normal" textLength="57.3" lengthAdjust="spacing">RT era</text>
<line x1="277" y1="1024.4" x2="277" y2="1031.6" stroke-width="1.0"/>
<line x1="274.4" y1="1028" x2="279.6" y2="1028" stroke-width="3.2"/>
<line x1="272.8" y1="1028" x2="281.2" y2="1028" stroke-width="1.3"/>
<line x1="280.5" y1="1024.4" x2="280.5" y2="1031.6" stroke-width="1.0"/>
<line x1="277.9" y1="1028" x2="283.1" y2="1028" stroke-width="3.2"/>
<line x1="276.3" y1="1028" x2="284.7" y2="1028" stroke-width="1.3"/>
<line x1="284" y1="1024.4" x2="284" y2="1031.6" stroke-width="1.0"/>
<line x1="281.4" y1="1028" x2="286.6" y2="1028" stroke-width="3.2"/>
<line x1="279.8" y1="1028" x2="288.2" y2="1028" stroke-width="1.3"/>
<line x1="305" y1="1024.4" x2="305" y2="1031.6" stroke-width="1.0"/>
<line x1="302.4" y1="1028" x2="307.6" y2="1028" stroke-width="3.2"/>
<line x1="300.8" y1="1028" x2="309.2" y2="1028" stroke-width="1.3"/>
<line x1="309" y1="1024.4" x2="309" y2="1031.6" stroke-width="1.0"/>
<line x1="306.4" y1="1028" x2="311.6" y2="1028" stroke-width="3.2"/>
<line x1="304.8" y1="1028" x2="313.2" y2="1028" stroke-width="1.3"/>
<line x1="313" y1="1024.4" x2="313" y2="1031.6" stroke-width="1.0"/>
<line x1="310.4" y1="1028" x2="315.6" y2="1028" stroke-width="3.2"/>
<line x1="308.8" y1="1028" x2="317.2" y2="1028" stroke-width="1.3"/>
<line x1="355.7" y1="1077.4" x2="355.7" y2="1084.6" stroke-width="1.0"/>
<line x1="353.09999999999997" y1="1081" x2="358.3" y2="1081" stroke-width="3.2"/>
<line x1="351.5" y1="1081" x2="359.9" y2="1081" stroke-width="1.3"/>
<line x1="384" y1="1092.9" x2="384" y2="1100.1" stroke-width="1.0"/>
<line x1="381.4" y1="1096.5" x2="386.6" y2="1096.5" stroke-width="3.2"/>
<line x1="379.8" y1="1096.5" x2="388.2" y2="1096.5" stroke-width="1.3"/>
<line x1="418" y1="1092.9" x2="418" y2="1100.1" stroke-width="1.0"/>
<line x1="415.4" y1="1096.5" x2="420.6" y2="1096.5" stroke-width="3.2"/>
<line x1="413.8" y1="1096.5" x2="422.2" y2="1096.5" stroke-width="1.3"/>
<line x1="422" y1="1092.9" x2="422" y2="1100.1" stroke-width="1.0"/>
<line x1="419.4" y1="1096.5" x2="424.6" y2="1096.5" stroke-width="3.2"/>
<line x1="417.8" y1="1096.5" x2="426.2" y2="1096.5" stroke-width="1.3"/>
<line x1="434" y1="1110.4" x2="434" y2="1117.6" stroke-width="1.0"/>
<line x1="431.4" y1="1114" x2="436.6" y2="1114" stroke-width="3.2"/>
<line x1="429.8" y1="1114" x2="438.2" y2="1114" stroke-width="1.3"/>
<line x1="468" y1="1134.4" x2="468" y2="1141.6" stroke-width="1.0"/>
<line x1="465.4" y1="1138" x2="470.6" y2="1138" stroke-width="3.2"/>
<line x1="463.8" y1="1138" x2="472.2" y2="1138" stroke-width="1.3"/>
<line x1="472" y1="1134.4" x2="472" y2="1141.6" stroke-width="1.0"/>
<line x1="469.4" y1="1138" x2="474.6" y2="1138" stroke-width="3.2"/>
<line x1="467.8" y1="1138" x2="476.2" y2="1138" stroke-width="1.3"/>
<line x1="478" y1="1134.4" x2="478" y2="1141.6" stroke-width="1.0"/>
<line x1="475.4" y1="1138" x2="480.6" y2="1138" stroke-width="3.2"/>
<line x1="473.8" y1="1138" x2="482.2" y2="1138" stroke-width="1.3"/>
<line x1="88.9" y1="958.0" x2="110.0" y2="958.0" stroke-width="4.2" stroke-dasharray="12.1 5.8"/>
<line x1="110.0" y1="955.9" x2="110.0" y2="967.5" stroke-width="4.2" stroke-dasharray="12.1 5.8"/>
<line x1="107.9" y1="967.5" x2="115.0" y2="967.5" stroke-width="4.2" stroke-dasharray="12.1 5.8"/>
<line x1="115.0" y1="965.4" x2="115.0" y2="977.5" stroke-width="4.2" stroke-dasharray="12.1 5.8"/>
<line x1="112.9" y1="977.5" x2="133.0" y2="977.5" stroke-width="4.2" stroke-dasharray="12.1 5.8"/>
<line x1="133.0" y1="975.4" x2="133.0" y2="987.5" stroke-width="4.2" stroke-dasharray="12.1 5.8"/>
<line x1="130.9" y1="987.5" x2="138.0" y2="987.5" stroke-width="4.2" stroke-dasharray="12.1 5.8"/>
<line x1="138.0" y1="985.4" x2="138.0" y2="998.0" stroke-width="4.2" stroke-dasharray="12.1 5.8"/>
<line x1="135.9" y1="998.0" x2="180.0" y2="998.0" stroke-width="4.2" stroke-dasharray="12.1 5.8"/>
<line x1="180.0" y1="995.9" x2="180.0" y2="1007.5" stroke-width="4.2" stroke-dasharray="12.1 5.8"/>
<line x1="177.9" y1="1007.5" x2="242.7" y2="1007.5" stroke-width="4.2" stroke-dasharray="12.1 5.8"/>
<line x1="242.7" y1="1005.4" x2="242.7" y2="1018.0" stroke-width="4.2" stroke-dasharray="12.1 5.8"/>
<line x1="240.6" y1="1018.0" x2="274.3" y2="1018.0" stroke-width="4.2" stroke-dasharray="12.1 5.8"/>
<line x1="274.3" y1="1015.9" x2="274.3" y2="1028.0" stroke-width="4.2" stroke-dasharray="12.1 5.8"/>
<line x1="272.2" y1="1028.0" x2="327.0" y2="1028.0" stroke-width="4.2" stroke-dasharray="12.1 5.8"/>
<line x1="327.0" y1="1025.9" x2="327.0" y2="1037.0" stroke-width="4.2" stroke-dasharray="12.1 5.8"/>
<line x1="327.0" y1="1034.9" x2="327.0" y2="1045.5" stroke-width="4.2" stroke-dasharray="12.1 5.8"/>
<line x1="327.0" y1="1043.4" x2="327.0" y2="1054.0" stroke-width="4.2" stroke-dasharray="12.1 5.8"/>
<line x1="324.9" y1="1054.0" x2="331.0" y2="1054.0" stroke-width="4.2" stroke-dasharray="12.1 5.8"/>
<line x1="331.0" y1="1051.9" x2="331.0" y2="1066.5" stroke-width="4.2" stroke-dasharray="12.1 5.8"/>
<line x1="328.9" y1="1066.5" x2="342.0" y2="1066.5" stroke-width="4.2" stroke-dasharray="12.1 5.8"/>
<line x1="342.0" y1="1064.4" x2="342.0" y2="1074.0" stroke-width="4.2" stroke-dasharray="12.1 5.8"/>
<line x1="342.0" y1="1071.9" x2="342.0" y2="1081.0" stroke-width="4.2" stroke-dasharray="12.1 5.8"/>
<line x1="339.9" y1="1081.0" x2="360.5" y2="1081.0" stroke-width="4.2" stroke-dasharray="12.1 5.8"/>
<line x1="360.5" y1="1078.9" x2="360.5" y2="1089.0" stroke-width="4.2" stroke-dasharray="12.1 5.8"/>
<line x1="360.5" y1="1086.9" x2="360.5" y2="1096.5" stroke-width="4.2" stroke-dasharray="12.1 5.8"/>
<line x1="358.4" y1="1096.5" x2="430.5" y2="1096.5" stroke-width="4.2" stroke-dasharray="12.1 5.8"/>
<line x1="430.5" y1="1094.4" x2="430.5" y2="1114.0" stroke-width="4.2" stroke-dasharray="12.1 5.8"/>
<line x1="428.4" y1="1114.0" x2="463.5" y2="1114.0" stroke-width="4.2" stroke-dasharray="12.1 5.8"/>
<line x1="463.5" y1="1111.9" x2="463.5" y2="1138.0" stroke-width="4.2" stroke-dasharray="12.1 5.8"/>
<line x1="461.4" y1="1138.0" x2="493.0" y2="1138.0" stroke-width="4.2" stroke-dasharray="12.1 5.8"/>
<path d="M90,958 H184.5 V978.7 H296" fill="none" stroke-width="2.7" stroke-linejoin="miter"/>
<line x1="94" y1="955.1" x2="94" y2="960.9" stroke-width="1.2"/>
<line x1="96.5" y1="955.1" x2="96.5" y2="960.9" stroke-width="1.2"/>
<line x1="98.8" y1="955.1" x2="98.8" y2="960.9" stroke-width="1.2"/>
<line x1="105" y1="955.1" x2="105" y2="960.9" stroke-width="1.2"/>
<line x1="126" y1="955.1" x2="126" y2="960.9" stroke-width="1.2"/>
<line x1="133.75" y1="955.1" x2="133.75" y2="960.9" stroke-width="1.2"/>
<line x1="136" y1="955.1" x2="136" y2="960.9" stroke-width="1.2"/>
<line x1="152.5" y1="955.1" x2="152.5" y2="960.9" stroke-width="1.2"/>
<line x1="155" y1="955.1" x2="155" y2="960.9" stroke-width="1.2"/>
<line x1="157.5" y1="955.1" x2="157.5" y2="960.9" stroke-width="1.2"/>
<line x1="160" y1="955.1" x2="160" y2="960.9" stroke-width="1.2"/>
<line x1="163.75" y1="955.1" x2="163.75" y2="960.9" stroke-width="1.2"/>
<line x1="166.25" y1="955.1" x2="166.25" y2="960.9" stroke-width="1.2"/>
<line x1="171.25" y1="955.1" x2="171.25" y2="960.9" stroke-width="1.2"/>
<line x1="173.75" y1="955.1" x2="173.75" y2="960.9" stroke-width="1.2"/>
<line x1="180" y1="955.1" x2="180" y2="960.9" stroke-width="1.2"/>
<rect x="117.5" y="955.4" width="3.5" height="5.2" fill="#111" stroke="none"/>
<rect x="142.5" y="955.4" width="6.25" height="5.2" fill="#111" stroke="none"/>
<line x1="197.8" y1="975.8000000000001" x2="197.8" y2="981.6" stroke-width="1.2"/>
<line x1="200.6" y1="975.8000000000001" x2="200.6" y2="981.6" stroke-width="1.2"/>
<line x1="203.5" y1="975.8000000000001" x2="203.5" y2="981.6" stroke-width="1.2"/>
<line x1="205.6" y1="975.8000000000001" x2="205.6" y2="981.6" stroke-width="1.2"/>
<line x1="213.1" y1="975.8000000000001" x2="213.1" y2="981.6" stroke-width="1.2"/>
<line x1="216.5" y1="975.8000000000001" x2="216.5" y2="981.6" stroke-width="1.2"/>
<line x1="221.3" y1="975.8000000000001" x2="221.3" y2="981.6" stroke-width="1.2"/>
<line x1="225" y1="975.8000000000001" x2="225" y2="981.6" stroke-width="1.2"/>
<line x1="231.9" y1="975.8000000000001" x2="231.9" y2="981.6" stroke-width="1.2"/>
<line x1="237.2" y1="975.8000000000001" x2="237.2" y2="981.6" stroke-width="1.2"/>
<line x1="256.8" y1="975.8000000000001" x2="256.8" y2="981.6" stroke-width="1.2"/>
<line x1="265.6" y1="975.8000000000001" x2="265.6" y2="981.6" stroke-width="1.2"/>
<line x1="295.5" y1="975.8000000000001" x2="295.5" y2="981.6" stroke-width="1.2"/>
</svg></body></html>
